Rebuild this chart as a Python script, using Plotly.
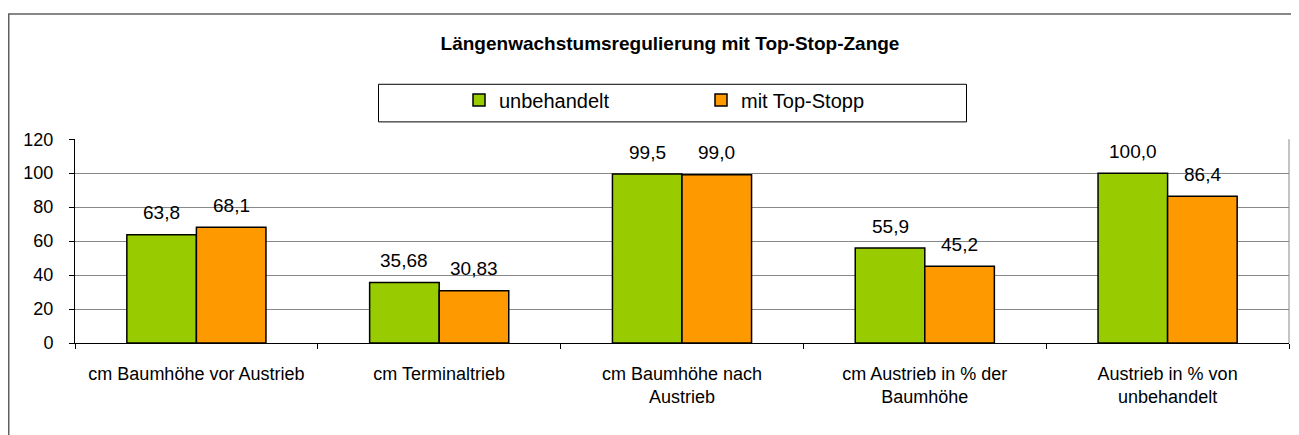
import plotly.graph_objects as go

categories = [
    "cm Baumhöhe vor Austrieb",
    "cm Terminaltrieb",
    "cm Baumhöhe nach<br>Austrieb",
    "cm Austrieb in % der<br>Baumhöhe",
    "Austrieb in % von<br>unbehandelt",
]
unbehandelt = [63.8, 35.68, 99.5, 55.9, 100.0]
top_stopp = [68.1, 30.83, 99.0, 45.2, 86.4]
labels_unbehandelt = ["63,8", "35,68", "99,5", "55,9", "100,0"]
labels_top_stopp = ["68,1", "30,83", "99,0", "45,2", "86,4"]
y_ticks = [0, 20, 40, 60, 80, 100, 120]

# page has an 8px body margin: figure coordinates = page coordinates - 8
OFF = 8
W, H = 1299 - OFF, 435 - OFF
ML, MR, MT, MB = 75 - OFF, 10, 137 - OFF, 92
PW, PH = W - ML - MR, H - MT - MB
FONT = "Liberation Sans, Arial, sans-serif"
BARGAP = 0.427


def px_x(px):
    """page x pixel -> paper fraction"""
    return (px - OFF - ML) / PW


def px_y(py):
    """page y pixel -> paper fraction"""
    return (H - MB - (py - OFF)) / PH


fig = go.Figure()
fig.add_trace(go.Bar(
    name="unbehandelt", x=categories, y=unbehandelt,
    marker=dict(color="#99CC00", line=dict(color="#000000", width=1.5)),
))
fig.add_trace(go.Bar(
    name="mit Top-Stopp", x=categories, y=top_stopp,
    marker=dict(color="#FF9900", line=dict(color="#000000", width=1.5)),
))

# data labels above bars
cat_w = PW / len(categories)
bar_w = cat_w * (1 - BARGAP) / 2
for vals, labs, sign in ((unbehandelt, labels_unbehandelt, -1), (top_stopp, labels_top_stopp, 1)):
    for c, v, t in zip(categories, vals, labs):
        fig.add_annotation(
            x=c, y=v, text=t, showarrow=False, xref="x", yref="y",
            xshift=sign * bar_w / 2, yshift=22, yanchor="middle",
            font=dict(family=FONT, size=19, color="#000000"),
        )

shapes = [
    # outer chart frame (left edge kept just inside the figure)
    dict(type="rect", xref="paper", yref="paper",
         x0=px_x(OFF + 0.75), x1=px_x(1320), y0=px_y(460), y1=px_y(10.5),
         line=dict(color="#606060", width=1.5), fillcolor="rgba(0,0,0,0)", layer="below"),
    # legend box
    dict(type="rect", xref="paper", yref="paper",
         x0=px_x(378.5), x1=px_x(966.5), y0=px_y(119.5), y1=px_y(81.5),
         line=dict(color="#000000", width=1), fillcolor="rgba(0,0,0,0)"),
    # plot area right border
    dict(type="line", xref="paper", yref="paper", x0=1, x1=1, y0=0, y1=1,
         line=dict(color="#888888", width=1)),
]

fig.update_layout(
    width=W, height=H,
    margin=dict(l=ML, r=MR, t=MT, b=MB, pad=0),
    paper_bgcolor="#FFFFFF", plot_bgcolor="#FFFFFF",
    barmode="group", bargap=BARGAP, bargroupgap=0,
    font=dict(family=FONT, size=16, color="#000000"),
    title=dict(
        text="<b>Längenwachstumsregulierung mit Top-Stop-Zange</b>",
        xref="container", yref="container", x=(670 - OFF) / W, y=1 - (43 - OFF) / H,
        xanchor="center", yanchor="middle",
        font=dict(family=FONT, size=19, color="#000000"),
    ),
    legend=dict(
        orientation="h", xref="container", yref="container",
        x=451 / W, y=1 - (100 - OFF) / H, xanchor="left", yanchor="middle",
        entrywidth=197, entrywidthmode="pixels",
        font=dict(family=FONT, size=20, color="#000000"),
        bgcolor="rgba(0,0,0,0)", borderwidth=0, traceorder="normal",
    ),
    shapes=shapes,
    showlegend=True,
)
fig.update_xaxes(
    showline=True, linecolor="#000000", linewidth=1,
    ticks="outside", tickson="boundaries", ticklen=5, tickcolor="#000000",
    ticklabelstandoff=14,
    tickfont=dict(family=FONT, size=18, color="#000000"),
    showgrid=False,
)
fig.update_yaxes(
    range=[0, 120], tickvals=y_ticks, ticktext=[str(v) for v in y_ticks],
    showline=True, linecolor="#000000", linewidth=1,
    ticks="outside", ticklen=5, tickcolor="#000000",
    ticklabelstandoff=12,
    tickfont=dict(family=FONT, size=18, color="#000000"),
    showgrid=True, gridcolor="#888888", gridwidth=1,
    zeroline=False,
)

fig.write_html("out.html")
